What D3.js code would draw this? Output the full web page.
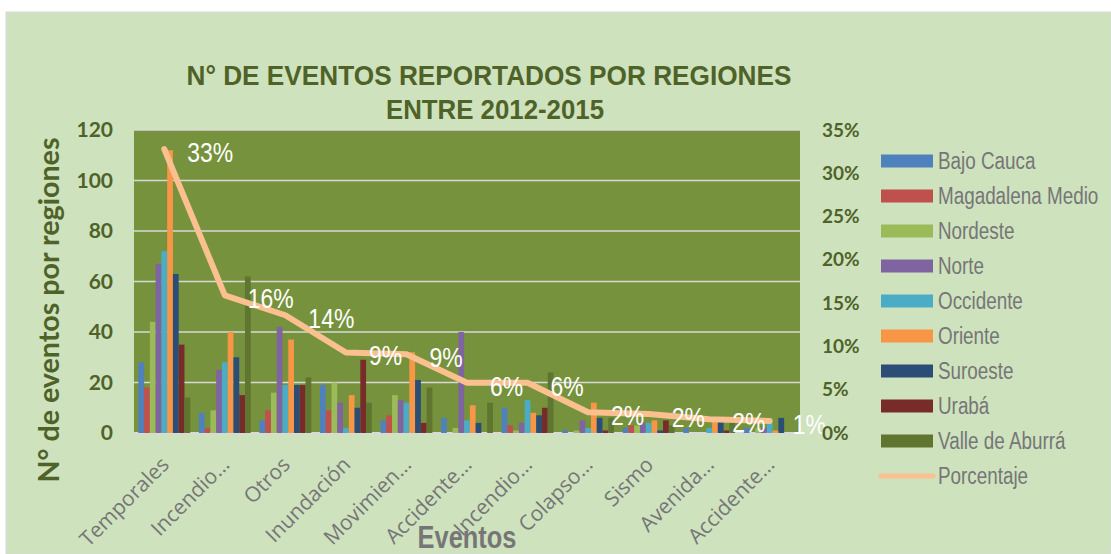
<!DOCTYPE html>
<html lang="es">
<head>
    <meta charset="UTF-8">
    <title>Eventos por regiones</title>
    <script src="https://d3js.org/d3.v7.min.js"></script>
    <style>
        body { margin: 0; background: #ffffff; }
        svg { display: block; }
    </style>
</head>
<body>

<script>

    // categorias del eje X (Excel recorta los nombres largos)
    let categories = ["Temporales", "Incendio…", "Otros", "Inundación", "Movimien…", "Accidente…",
        "Incendio…", "Colapso…", "Sismo", "Avenida…", "Accidente…"];

    let regions = ["Bajo Cauca", "Magadalena Medio", "Nordeste", "Norte", "Occidente",
        "Oriente", "Suroeste", "Urabá", "Valle de Aburrá"];

    let regionColors = ["#4f81bd", "#c0504d", "#9bbb59", "#8064a2", "#4bacc6",
        "#f79646", "#2c4d75", "#772c2a", "#5f7530"];

    // numero de eventos por region
    let bajoCauca = [28, 8, 5, 19, 5, 6, 10, 1, 2, 2, 2];
    let magdalenaMedio = [18, 2, 9, 9, 7, 0, 3, 0, 3, 0, 0];
    let nordeste = [44, 9, 16, 20, 15, 2, 1, 1, 3, 0, 2];
    let norte = [67, 25, 42, 12, 13, 40, 4, 5, 4, 0, 2];
    let occidente = [72, 28, 19, 2, 12, 5, 13, 2, 4, 2, 4];
    let oriente = [112, 40, 37, 15, 32, 11, 8, 12, 5, 6, 1];
    let suroeste = [63, 30, 19, 10, 21, 4, 7, 6, 1, 5, 6];
    let uraba = [35, 15, 19, 29, 4, 0, 10, 1, 5, 1, 0];
    let valleAburra = [14, 62, 22, 12, 18, 12, 24, 6, 3, 5, 0];

    // porcentaje de cada evento (eje derecho)
    let porcentaje = [32.8, 15.9, 13.6, 9.3, 9.1, 5.8, 5.8, 2.4, 2.2, 1.6, 1.4];
    let porcentajeLabels = ["33%", "16%", "14%", "9%", "9%", "6%", "6%", "2%", "2%", "2%", "1%"];

    let yTicks = [0, 20, 40, 60, 80, 100, 120];
    let y2Ticks = [0, 0.05, 0.10, 0.15, 0.20, 0.25, 0.30, 0.35];

    let series = [bajoCauca, magdalenaMedio, nordeste, norte, occidente, oriente, suroeste, uraba, valleAburra];

    let width = 1111, height = 554;
    let plot = {left: 134, right: 800, top: 130, bottom: 433};

    // no hay Arial Narrow: se comprime Liberation Sans a lo ancho
    let sans = "'Liberation Sans', Arial, sans-serif";
    let squeeze = 0.82;
    let darkGreen = "#4f6228";
    let gray = "#767676";

    function narrowAt(x, y) {
        return 'translate(' + x + ',' + y + ') scale(' + squeeze + ',1)';
    }

    let svg = d3.select('body').append('svg')
        .attr('width', width)
        .attr('height', height);

    // fondo del area del grafico
    svg.append('rect')
        .attr('x', 6).attr('y', 12)
        .attr('width', width - 6).attr('height', height - 12)
        .style('fill', '#cee2be')
        .style('stroke', '#d9d9d9');

    let x0 = d3.scaleBand()
        .domain(d3.range(categories.length))
        .range([plot.left, plot.right]);

    let x1 = d3.scaleBand()
        .domain(d3.range(regions.length))
        .range([0, x0.bandwidth()])
        .paddingInner(0)
        .paddingOuter(0.75);

    let y = d3.scaleLinear().domain([0, 120]).range([plot.bottom, plot.top]);
    let y2 = d3.scaleLinear().domain([0, 0.35]).range([plot.bottom, plot.top]);

    // area de trazado
    svg.append('rect')
        .attr('x', plot.left).attr('y', plot.top)
        .attr('width', plot.right - plot.left).attr('height', plot.bottom - plot.top)
        .style('fill', '#76923c');

    svg.append('g').selectAll('line')
        .data(yTicks)
        .enter()
        .append('line')
        .attr('x1', plot.left).attr('x2', plot.right)
        .attr('y1', d => y(d)).attr('y2', d => y(d))
        .style('stroke', '#d9d9d9')
        .style('stroke-width', d => d === 0 ? 2 : 1.5);

    // barras
    let groups = svg.append('g').selectAll('g')
        .data(series)
        .enter()
        .append('g')
        .style('fill', (d, i) => regionColors[i]);

    groups.each(function (values, r) {
        d3.select(this).selectAll('rect')
            .data(values)
            .enter()
            .append('rect')
            .attr('x', (d, c) => x0(c) + x1(r))
            .attr('width', x1.bandwidth())
            .attr('y', d => y(d))
            .attr('height', d => y(0) - y(d));
    });

    // linea de porcentaje
    let line = d3.line()
        .x((d, i) => x0(i) + x0.bandwidth() / 2)
        .y(d => y2(d / 100));

    svg.append('path')
        .datum(porcentaje)
        .attr('d', line)
        .style('fill', 'none')
        .style('stroke', '#fac090')
        .style('stroke-width', 6)
        .style('stroke-linejoin', 'round')
        .style('stroke-linecap', 'round');

    svg.append('g').selectAll('text')
        .data(porcentaje)
        .enter()
        .append('text')
        .attr('transform', (d, i) => narrowAt(x0(i) + x0.bandwidth() / 2 + 23, y2(d / 100) + 13))
        .text((d, i) => porcentajeLabels[i])
        .style('fill', '#ffffff')
        .style('font-family', sans)
        .style('font-size', '28px');

    // ejes
    let yAxis = svg.append('g')
        .attr('transform', 'translate(' + (plot.left - 21) + ',0)')
        .call(d3.axisLeft(y).tickValues(yTicks).tickSize(0));

    let y2Axis = svg.append('g')
        .attr('transform', 'translate(' + (plot.right + 22) + ',0)')
        .call(d3.axisRight(y2).tickValues(y2Ticks).tickSize(0).tickFormat(d3.format('.0%')));

    let xAxis = svg.append('g')
        .attr('transform', 'translate(0,' + plot.bottom + ')')
        .call(d3.axisBottom(x0).tickSize(0).tickFormat(i => categories[i]));

    [yAxis, y2Axis, xAxis].forEach(a => a.select('.domain').remove());

    yAxis.selectAll('text')
        .attr('x', 0)
        .style('fill', darkGreen)
        .style('font-family', 'Lato, sans-serif')
        .style('font-weight', 'bold')
        .style('font-size', '21px');

    y2Axis.selectAll('text')
        .attr('x', 0)
        .style('fill', darkGreen)
        .style('font-family', 'Lato, sans-serif')
        .style('font-weight', 'bold')
        .style('font-size', '19px');

    xAxis.selectAll('text')
        .attr('x', 0).attr('y', 0).attr('dy', 0)
        .attr('text-anchor', 'end')
        .attr('transform', 'translate(6,33) rotate(-45)')
        .style('fill', gray)
        .style('font-family', "'Open Sans', sans-serif")
        .style('font-size', '21px');

    // titulos
    let title = svg.append('text')
        .attr('text-anchor', 'middle')
        .style('fill', darkGreen)
        .style('font-family', sans)
        .style('font-weight', 'bold')
        .style('font-size', '28px');

    title.append('tspan').attr('x', 489).attr('y', 85)
        .attr('textLength', 605).attr('lengthAdjust', 'spacingAndGlyphs')
        .text('N° DE EVENTOS REPORTADOS POR REGIONES');
    title.append('tspan').attr('x', 495).attr('y', 119)
        .attr('textLength', 218).attr('lengthAdjust', 'spacingAndGlyphs')
        .text('ENTRE 2012-2015');

    svg.append('text')
        .attr('transform', 'translate(59,310) rotate(-90)')
        .attr('text-anchor', 'middle')
        .attr('textLength', 345).attr('lengthAdjust', 'spacingAndGlyphs')
        .text('N° de eventos por regiones')
        .style('fill', darkGreen)
        .style('font-family', 'Lato, sans-serif')
        .style('font-weight', 'bold')
        .style('font-size', '29px');

    svg.append('text')
        .attr('transform', narrowAt(467, 548))
        .attr('text-anchor', 'middle')
        .text('Eventos')
        .style('fill', gray)
        .style('font-family', sans)
        .style('font-weight', 'bold')
        .style('font-size', '31px');

    // leyenda
    let legend = svg.append('g').selectAll('g')
        .data(regions.concat(['Porcentaje']))
        .enter()
        .append('g')
        .attr('transform', (d, i) => 'translate(881,' + (161 + i * 35) + ')');

    legend.filter((d, i) => i < regions.length)
        .append('rect')
        .attr('x', 0).attr('y', -6.5)
        .attr('width', 52).attr('height', 13)
        .style('fill', (d, i) => regionColors[i]);

    legend.filter((d, i) => i === regions.length)
        .append('line')
        .attr('x1', 0).attr('x2', 52)
        .style('stroke', '#fac090')
        .style('stroke-width', 5)
        .style('stroke-linecap', 'round');

    legend.append('text')
        .attr('transform', narrowAt(57, 8))
        .text(d => d)
        .style('fill', gray)
        .style('font-family', sans)
        .style('font-size', '23px');

</script>
</body>
</html>
